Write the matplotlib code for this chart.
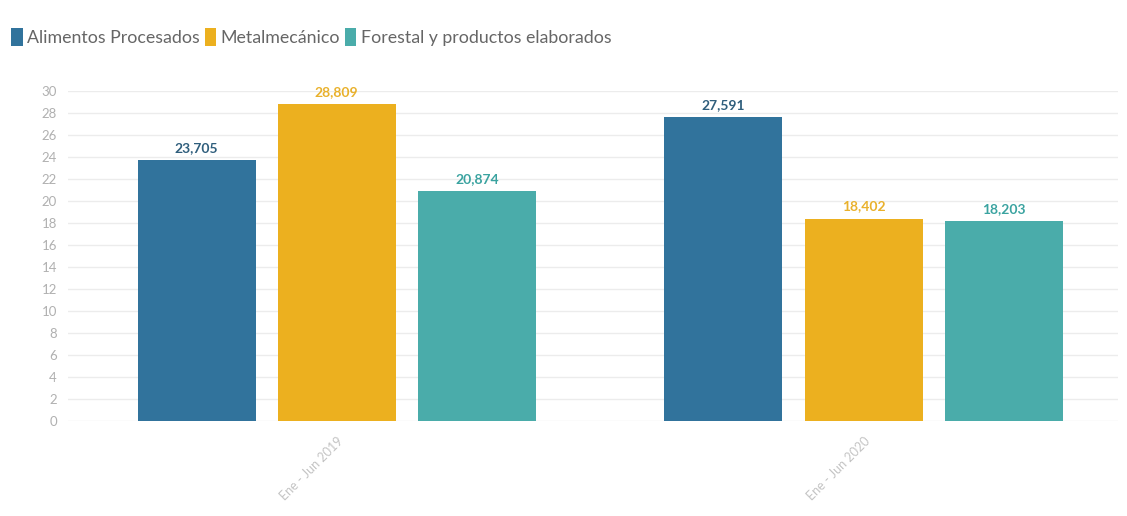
import numpy as np
import matplotlib.pyplot as plt
from matplotlib.patches import Patch

plt.rcParams['font.family'] = ['Lato', 'DejaVu Sans']

# Data
periods = ['Ene - Jun 2019', 'Ene - Jun 2020']
series_names = ['Alimentos Procesados', 'Metalmecánico', 'Forestal y productos elaborados']
alimentos = [23.705, 27.591]
metalmecanico = [28.809, 18.402]
forestal = [20.874, 18.203]
y_ticks = list(range(0, 31, 2))

bar_colors = ['#31739c', '#ecb01f', '#4aacaa']
label_colors = ['#2f5e7c', '#e9b12c', '#3aa3a0']

fig = plt.figure(figsize=(11.27, 5.16), dpi=100)
ax = fig.add_axes([68 / 1127, 1 - 421 / 516, (1118 - 68) / 1127, (421 - 91) / 516])

x = np.arange(len(periods))
width = 0.224
step = 0.266
all_series = [alimentos, metalmecanico, forestal]
for i, vals in enumerate(all_series):
    pos = x + (i - 1) * step
    ax.bar(pos, vals, width=width, color=bar_colors[i], zorder=3)
    for p, v in zip(pos, vals):
        ax.text(p, v + 0.55, f"{v:.3f}".replace('.', ','), ha='center', va='bottom',
                fontsize=10, fontweight='bold', color=label_colors[i], clip_on=False)

ax.set_xlim(-0.51, 1.483)
ax.set_ylim(0, 30)
ax.set_yticks(y_ticks)
ax.set_yticklabels([str(t) for t in y_ticks], fontsize=9.5, color='#b0b0b0')
ax.tick_params(axis='y', length=0, pad=8)
ax.grid(axis='y', color='#ececec', linewidth=1, zorder=0)
ax.set_xticks(x)
ax.set_xticklabels(periods, rotation=45, ha='right', rotation_mode='anchor',
                   fontsize=9, color='#c4c4c4')
ax.tick_params(axis='x', length=0, pad=10)
for s in ax.spines.values():
    s.set_visible(False)

handles = [Patch(facecolor=c, edgecolor='none') for c in bar_colors]
fig.legend(handles, series_names, loc='upper left', bbox_to_anchor=(-0.004, 0.977),
           ncol=3, frameon=False, fontsize=12.8, handlelength=0.65, handleheight=1.15,
           handletextpad=0.25, columnspacing=0.25, labelcolor='#666666')

fig.savefig('out.png', dpi=100, facecolor='white')
